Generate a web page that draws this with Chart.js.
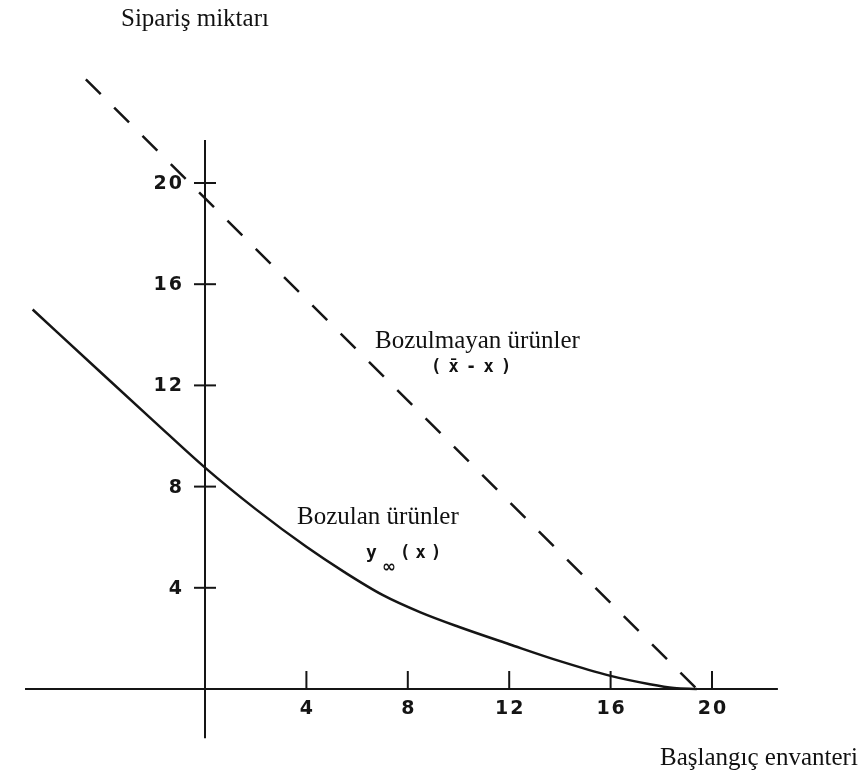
<!DOCTYPE html>
<html>
<head>
<meta charset="utf-8">
<script src="https://cdn.jsdelivr.net/npm/chart.js@4/dist/chart.umd.min.js"></script>
<style>
  html, body { margin: 0; padding: 0; background: #ffffff; }
  #wrap { width: 866px; height: 773px; position: relative; }
</style>
</head>
<body>
<div id="wrap"><canvas id="c"></canvas></div>
<script>
// ---- Data ----
const curveX = [-6.8, -4, -2, 0, 2, 4, 5.5, 7, 8.5, 10, 12, 14, 16, 17.5, 18.5, 19.4];
const curveY = [15.0, 12.41, 10.57, 8.75, 7.11, 5.62, 4.62, 3.72, 3.03, 2.46, 1.77, 1.10, 0.52, 0.2, 0.04, 0];
const dashX = [-4.7, 19.4];
const dashY = [24.1, 0];
const xTickValues = [4, 8, 12, 16, 20];
const yTickValues = [4, 8, 12, 16, 20];
const yAxisTitle = "Sipariş miktarı";
const xAxisTitle = "Başlangıç envanteri";
const series1Name = "Bozulmayan ürünler";
const series1Formula = "( x\u0304 - x )";
const series2Name = "Bozulan ürünler";

// ---- Layout constants ----
const X_MIN = -8.087, X_MAX = 26.075;
const Y_MIN = -3.320, Y_MAX = 27.233;
const AXIS_X_FROM = -7.1, AXIS_X_TO = 22.6;
const AXIS_Y_FROM = -1.95, AXIS_Y_TO = 21.7;
const INK = '#151515';

function setSpacing(ctx, v) { try { ctx.letterSpacing = v; } catch (e) {} }

const axesPlugin = {
  id: 'handAxes',
  beforeDatasetsDraw(chart) {
    const ctx = chart.ctx;
    const xs = chart.scales.x, ys = chart.scales.y;
    const x0 = xs.getPixelForValue(0), y0 = ys.getPixelForValue(0);
    ctx.save();
    ctx.strokeStyle = INK;
    ctx.lineWidth = 2;
    ctx.lineCap = 'butt';
    ctx.beginPath();
    ctx.moveTo(xs.getPixelForValue(AXIS_X_FROM), y0);
    ctx.lineTo(xs.getPixelForValue(AXIS_X_TO), y0);
    ctx.stroke();
    ctx.beginPath();
    ctx.moveTo(x0, ys.getPixelForValue(AXIS_Y_FROM));
    ctx.lineTo(x0, ys.getPixelForValue(AXIS_Y_TO));
    ctx.stroke();
    ctx.fillStyle = INK;
    ctx.font = "bold 19px 'DejaVu Sans'";
    setSpacing(ctx, '2px');
    ctx.textAlign = 'center';
    ctx.textBaseline = 'middle';
    xTickValues.forEach(v => {
      const px = xs.getPixelForValue(v);
      ctx.beginPath();
      ctx.moveTo(px, y0);
      ctx.lineTo(px, y0 - 18);
      ctx.stroke();
      ctx.fillText(String(v), px + 1, y0 + 20);
    });
    ctx.textAlign = 'right';
    yTickValues.forEach(v => {
      const py = ys.getPixelForValue(v);
      ctx.beginPath();
      ctx.moveTo(x0 - 11, py);
      ctx.lineTo(x0 + 11, py);
      ctx.stroke();
      ctx.fillText(String(v), x0 - 21, py + 1);
    });
    ctx.restore();
  },
  afterDatasetsDraw(chart) {
    const ctx = chart.ctx;
    ctx.save();
    ctx.fillStyle = '#111';
    ctx.textBaseline = 'alphabetic';
    ctx.textAlign = 'left';
    ctx.font = "25px 'Liberation Serif'";
    ctx.fillText(yAxisTitle, 121, 26);
    ctx.fillText(xAxisTitle, 660, 765);
    ctx.fillText(series1Name, 375, 348);
    ctx.fillText(series2Name, 297, 524);
    ctx.textBaseline = 'middle';
    ctx.font = "bold 17px 'DejaVu Sans Mono'";
    setSpacing(ctx, '-1.5px');
    ctx.fillText(series1Formula, 431, 368);
    setSpacing(ctx, '0px');
    ctx.font = "bold 18px 'DejaVu Sans Mono'";
    ctx.fillText('y', 366, 553);
    ctx.font = "bold 17px 'DejaVu Sans'";
    ctx.fillText('\u221E', 382, 568);
    ctx.font = "bold 17px 'DejaVu Sans Mono'";
    setSpacing(ctx, '-2.5px');
    ctx.fillText('( x )', 400, 554);
    ctx.restore();
  }
};

const toPts = (xa, ya) => xa.map((x, i) => ({ x: x, y: ya[i] }));

new Chart(document.getElementById('c'), {
  type: 'scatter',
  data: {
    datasets: [
      {
        label: series1Name,
        data: toPts(dashX, dashY),
        showLine: true,
        borderColor: INK,
        borderWidth: 2.5,
        borderDash: [21, 19],
        pointRadius: 0,
        fill: false
      },
      {
        label: series2Name,
        data: toPts(curveX, curveY),
        showLine: true,
        borderColor: INK,
        borderWidth: 2.5,
        cubicInterpolationMode: 'monotone',
        pointRadius: 0,
        fill: false
      }
    ]
  },
  options: {
    responsive: true,
    maintainAspectRatio: false,
    animation: false,
    layout: { padding: 0 },
    plugins: { legend: { display: false }, tooltip: { enabled: false }, title: { display: false } },
    scales: {
      x: { type: 'linear', min: X_MIN, max: X_MAX, display: false },
      y: { type: 'linear', min: Y_MIN, max: Y_MAX, display: false }
    }
  },
  plugins: [axesPlugin]
});
</script>
</body>
</html>
